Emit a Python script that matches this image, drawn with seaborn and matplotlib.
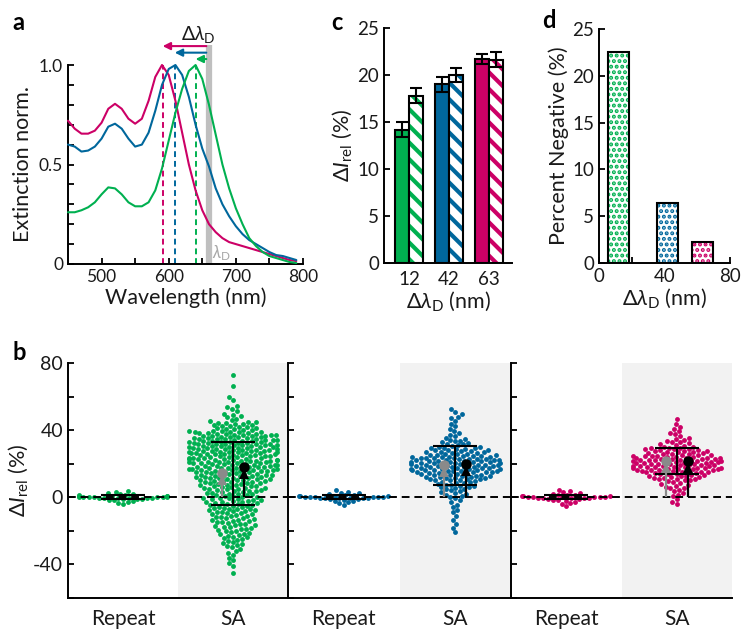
import numpy as np
import pandas as pd
import matplotlib
matplotlib.use("Agg")
import matplotlib.pyplot as plt
from matplotlib.patches import Rectangle
import seaborn as sns

# ---------------- extinction spectra (panel a) ----------------
wavelength = [450, 460, 470, 480, 490, 500, 510, 520, 530, 540, 550, 560,
              570, 580, 590, 600, 610, 620, 630, 640, 650, 660, 670, 680,
              690, 700, 710, 720, 730, 740, 750, 760, 770, 780, 790]
ext_pink = [0.72, 0.68, 0.655, 0.655, 0.67, 0.71, 0.78, 0.805, 0.78, 0.73,
            0.705, 0.73, 0.82, 0.94, 1.0, 0.95, 0.82, 0.66, 0.50, 0.37,
            0.27, 0.20, 0.16, 0.13, 0.11, 0.10, 0.09, 0.08, 0.07, 0.06,
            0.05, 0.04, 0.03, 0.02, 0.015]
ext_blue = [0.60, 0.59, 0.565, 0.57, 0.59, 0.63, 0.69, 0.705, 0.68, 0.63,
            0.59, 0.60, 0.66, 0.77, 0.90, 0.98, 1.0, 0.95, 0.84, 0.70,
            0.58, 0.49, 0.38, 0.30, 0.24, 0.19, 0.15, 0.12, 0.10, 0.08,
            0.06, 0.045, 0.04, 0.03, 0.02]
ext_green = [0.26, 0.26, 0.27, 0.285, 0.31, 0.35, 0.385, 0.38, 0.35, 0.31,
             0.29, 0.29, 0.31, 0.37, 0.48, 0.62, 0.76, 0.88, 0.97, 1.0,
             0.93, 0.80, 0.65, 0.50, 0.38, 0.28, 0.20, 0.13, 0.09, 0.06,
             0.04, 0.03, 0.02, 0.01, 0.005]
peak_nm = {"pink": 591, "blue": 609, "green": 640}
lambda_d = 660

# ---------------- bar data (panels c, d) ----------------
shift_labels = ["12", "42", "63"]
shift_nm = [12, 42, 63]
dI_solid = [14.2, 19.0, 21.7]
dI_solid_err = [0.8, 0.8, 0.55]
dI_hatched = [17.8, 20.0, 21.6]
dI_hatched_err = [0.8, 0.75, 0.8]
percent_negative = [22.5, 6.4, 2.2]

# ---------------- single-particle changes (panel b) ----------------
green_repeat = [0.0, 0.2, -0.1, 0.3, -0.3, 0.1, -0.2, 0.4, -0.5, 0.5, -0.4,
                0.6, -0.6, 0.2, -0.2, 0.7, -0.8, 0.9, -1.0, 1.1, -1.2, 1.4,
                -1.5, 1.8, -1.9, 2.2, -2.4, 2.7, -2.9, 3.3, -3.4, 3.9, -4.1]
blue_repeat = [0.1, -0.1, 0.3, -0.2, 0.0, 0.4, -0.4, 0.5, -0.6, 0.2, -0.3,
               0.6, -0.5, 0.8, -0.7, 1.0, -0.9, 1.2, -1.3, 1.5, -1.6, 1.9,
               -2.0, 2.3, -2.5, 2.8, -3.0, 3.4, -3.7, 4.2, -4.6]
pink_repeat = [0.0, 0.2, -0.2, 0.1, -0.1, 0.4, -0.3, 0.3, -0.5, 0.6, -0.4,
               0.5, -0.7, 0.8, -0.9, 1.1, -1.0, 1.3, -1.4, 1.6, -1.8, 2.0,
               -2.2, 2.5, -2.7, 3.0, -3.3, 3.6, -4.0, 4.4, -5.2]

green_sa = [
    73.0, 66.2, 58.1, 59.6, 51.2, 52.8, 53.5, 54.4,
    45.3, 46.1, 46.9, 47.8, 48.5, 49.2, 49.8,
    40.2, 40.5, 40.6, 41.1, 41.3, 41.8, 42.0, 42.4, 42.5, 43.0, 43.2, 43.6,
    43.9, 44.1, 44.5, 44.7, 44.9,
    35.0, 35.2, 35.3, 35.5, 35.7, 35.8, 36.0, 36.1, 36.3, 36.5, 36.6, 36.8,
    37.0, 37.1, 37.3, 37.4, 37.6, 37.8, 37.9, 38.1, 38.2, 38.4, 38.6, 38.7,
    38.9, 39.1, 39.2, 39.4, 39.6, 39.8,
    30.0, 30.1, 30.3, 30.4, 30.6, 30.7, 30.9, 31.0, 31.2, 31.3, 31.5, 31.6,
    31.8, 31.9, 32.0, 32.2, 32.3, 32.5, 32.6, 32.8, 32.9, 33.0, 33.2, 33.3,
    33.5, 33.6, 33.8, 33.9, 34.1, 34.2, 34.4, 34.5, 34.7, 34.9,
    25.1, 25.2, 25.4, 25.5, 25.7, 25.8, 25.9, 26.1, 26.2, 26.4, 26.5, 26.7,
    26.8, 26.9, 27.1, 27.2, 27.4, 27.5, 27.7, 27.8, 27.9, 28.0, 28.2, 28.3,
    28.5, 28.6, 28.8, 28.9, 29.1, 29.2, 29.4, 29.6, 29.7, 29.9,
    20.0, 20.2, 20.3, 20.5, 20.6, 20.8, 20.9, 21.1, 21.2, 21.3, 21.5, 21.7,
    21.8, 21.9, 22.0, 22.2, 22.4, 22.5, 22.7, 22.8, 22.9, 23.1, 23.2, 23.4,
    23.5, 23.6, 23.8, 23.9, 24.1, 24.3, 24.4, 24.6, 24.7, 24.9,
    15.0, 15.2, 15.3, 15.5, 15.6, 15.8, 15.9, 16.1, 16.2, 16.4, 16.5, 16.7,
    16.8, 16.9, 17.1, 17.2, 17.4, 17.5, 17.7, 17.8, 18.0, 18.1, 18.3, 18.4,
    18.6, 18.7, 18.9, 19.0, 19.2, 19.4, 19.5, 19.7, 19.9,
    10.1, 10.3, 10.5, 10.6, 10.8, 11.0, 11.2, 11.4, 11.5, 11.7, 11.9, 12.1,
    12.2, 12.4, 12.6, 12.8, 12.9, 13.1, 13.3, 13.5, 13.7, 13.9, 14.0, 14.2,
    14.4, 14.6, 14.8,
    5.1, 5.3, 5.6, 5.8, 6.0, 6.2, 6.5, 6.7, 6.9, 7.1, 7.4, 7.6, 7.8, 8.0,
    8.3, 8.5, 8.7, 8.9, 9.1, 9.3, 9.5, 9.7, 9.9,
    0.1, 0.4, 0.6, 0.9, 1.2, 1.4, 1.7, 1.9, 2.2, 2.5, 2.7, 3.0, 3.2, 3.5,
    3.7, 3.9, 4.2, 4.4, 4.7, 4.9,
    -0.2, -0.5, -0.7, -1.0, -1.3, -1.5, -1.8, -2.1, -2.3, -2.6, -2.8, -3.1,
    -3.4, -3.6, -3.9, -4.1, -4.4, -4.6, -4.9,
    -5.2, -5.5, -5.8, -6.1, -6.4, -6.7, -7.0, -7.2, -7.5, -7.8, -8.1, -8.4,
    -8.7, -9.0, -9.3, -9.6, -9.9,
    -10.2, -10.6, -10.9, -11.3, -11.6, -12.0, -12.3, -12.6, -13.0, -13.3,
    -13.7, -14.0, -14.3, -14.6, -14.9,
    -15.3, -15.7, -16.1, -16.4, -16.8, -17.2, -17.6, -17.9, -18.3, -18.7,
    -19.0, -19.4, -19.8,
    -20.2, -20.7, -21.1, -21.6, -22.0, -22.5, -22.9, -23.4, -23.8, -24.3,
    -24.7,
    -25.3, -25.9, -26.5, -27.2, -27.8, -28.4, -29.0, -29.7,
    -30.6, -31.8, -33.0, -34.3, -36.2, -37.5, -39.1, -41.0, -45.3,
]
blue_sa = [
    50.8, 52.6, 45.6, 47.2, 48.1, 49.4, 40.8, 42.3, 43.9,
    35.4, 36.5, 37.3, 38.2, 39.3,
    30.2, 30.7, 31.1, 31.6, 32.0, 32.5, 32.9, 33.4, 33.8, 34.3, 34.7,
    25.1, 25.3, 25.6, 25.8, 26.0, 26.3, 26.5, 26.8, 27.0, 27.2, 27.5, 27.7,
    28.0, 28.2, 28.4, 28.7, 28.9, 29.1, 29.4, 29.6, 29.8,
    20.0, 20.2, 20.3, 20.5, 20.6, 20.8, 20.9, 21.1, 21.2, 21.4, 21.5, 21.7,
    21.8, 22.0, 22.1, 22.3, 22.4, 22.6, 22.7, 22.9, 23.0, 23.2, 23.3, 23.5,
    23.6, 23.8, 23.9, 24.1, 24.2, 24.4, 24.5, 24.7, 24.9,
    15.0, 15.1, 15.3, 15.4, 15.6, 15.7, 15.9, 16.0, 16.2, 16.3, 16.5, 16.6,
    16.8, 16.9, 17.1, 17.2, 17.4, 17.5, 17.7, 17.8, 18.0, 18.1, 18.3, 18.4,
    18.6, 18.7, 18.9, 19.0, 19.2, 19.3, 19.5, 19.6, 19.8, 19.9,
    10.1, 10.3, 10.5, 10.7, 10.9, 11.1, 11.3, 11.5, 11.7, 11.9, 12.1, 12.3,
    12.5, 12.7, 12.9, 13.1, 13.3, 13.5, 13.7, 13.9, 14.1, 14.3, 14.5, 14.7,
    14.9,
    5.2, 5.5, 5.9, 6.2, 6.6, 6.9, 7.3, 7.6, 8.0, 8.3, 8.7, 9.0, 9.4, 9.8,
    0.3, 0.8, 1.4, 1.9, 2.5, 3.0, 3.6, 4.1, 4.7,
    -0.6, -1.9, -3.1, -4.4, -5.8, -7.4, -9.0, -11.2, -13.6, -15.9, -18.1,
    -20.7,
]
pink_sa = [
    46.8, 40.6, 42.1, 43.5, 35.3, 36.4, 37.5, 38.4, 39.3,
    30.2, 30.7, 31.2, 31.7, 32.2, 32.7, 33.2, 33.7, 34.2, 34.7,
    25.1, 25.3, 25.5, 25.8, 26.0, 26.2, 26.5, 26.7, 26.9, 27.1, 27.4, 27.6,
    27.8, 28.0, 28.3, 28.5, 28.7, 28.9, 29.2, 29.4, 29.6, 29.8,
    20.0, 20.1, 20.3, 20.4, 20.6, 20.7, 20.9, 21.0, 21.2, 21.3, 21.5, 21.6,
    21.8, 21.9, 22.1, 22.2, 22.4, 22.5, 22.7, 22.8, 23.0, 23.1, 23.3, 23.4,
    23.6, 23.7, 23.9, 24.0, 24.2, 24.3, 24.5, 24.6, 24.8, 24.9,
    15.0, 15.2, 15.3, 15.5, 15.6, 15.8, 15.9, 16.1, 16.2, 16.4, 16.5, 16.7,
    16.8, 16.9, 17.1, 17.2, 17.4, 17.5, 17.7, 17.8, 18.0, 18.1, 18.3, 18.4,
    18.6, 18.7, 18.9, 19.0, 19.2, 19.4, 19.5, 19.7, 19.9,
    10.1, 10.4, 10.6, 10.9, 11.1, 11.4, 11.6, 11.9, 12.1, 12.4, 12.6, 12.9,
    13.1, 13.4, 13.6, 13.9, 14.1, 14.4, 14.6, 14.9,
    5.3, 5.8, 6.4, 6.9, 7.5, 8.0, 8.6, 9.1, 9.7,
    0.6, 1.6, 2.6, 3.6, 4.6, -1.2, -2.6, -4.1,
]
sa_center = [14.2, 19.0, 21.7]
sa_spread = [18.7, 11.4, 7.9]
repeat_center = [0.0, 0.0, 0.0]
repeat_spread = [1.2, 1.2, 1.2]
sa_black = [17.8, 20.0, 21.6]
sa_grey = [14.7, 19.5, 21.9]

GREEN, BLUE, PINK = "#00b050", "#00679c", "#cc0066"
GREY_BAR = "#bfbfbf"
INK = "#1a1a1a"

# ---------------- style ----------------
sns.set_theme(style="ticks")
plt.rcParams.update({
    "font.family": ["Lato", "DejaVu Sans"],
    "mathtext.fontset": "custom",
    "mathtext.rm": "Lato",
    "mathtext.it": "Lato:italic",
    "mathtext.bf": "Lato:bold",
    "axes.unicode_minus": False,
    "axes.linewidth": 1.4,
    "axes.edgecolor": "black",
    "text.color": INK,
    "axes.labelcolor": INK,
    "xtick.color": "black",
    "ytick.color": "black",
    "xtick.labelcolor": INK,
    "ytick.labelcolor": INK,
    "xtick.direction": "in",
    "ytick.direction": "in",
    "xtick.major.size": 4.5,
    "ytick.major.size": 4.5,
    "xtick.minor.size": 4.5,
    "ytick.minor.size": 4.5,
    "xtick.major.width": 1.3,
    "ytick.major.width": 1.3,
    "xtick.minor.width": 1.3,
    "ytick.minor.width": 1.3,
    "hatch.linewidth": 3.0,
})

W, H = 744, 636
fig = plt.figure(figsize=(W / 100, H / 100), dpi=100)


def px_axes(left, top, right, bottom):
    return fig.add_axes([left / W, 1 - bottom / H, (right - left) / W, (bottom - top) / H])


LABEL_FS = 15.5

# ---------------- panel a: normalised extinction ----------------
ax_a = px_axes(68, 65, 303, 264)
spec = pd.DataFrame({"wl": wavelength, "pink": ext_pink, "blue": ext_blue, "green": ext_green})
ax_a.plot([lambda_d, lambda_d], [0, 1.10], color=GREY_BAR, lw=4.5,
          solid_capstyle="butt", zorder=1, clip_on=False)
arrow_y = {"pink": 1.095, "blue": 1.062, "green": 1.03}
for key, col in [("pink", PINK), ("blue", BLUE), ("green", GREEN)]:
    sns.lineplot(data=spec, x="wl", y=key, color=col, lw=1.5, ax=ax_a,
                 estimator=None, zorder=3, clip_on=False)
    pk = peak_nm[key]
    ax_a.plot([pk, pk], [0, 1.0], color=col, lw=1.4, ls=(0, (3, 2)), zorder=2)
    ax_a.annotate("", xy=(pk, arrow_y[key]), xytext=(lambda_d - 4, arrow_y[key]),
                  arrowprops=dict(arrowstyle="-|>", color=col, lw=1.5,
                                  mutation_scale=11, shrinkA=0, shrinkB=0),
                  annotation_clip=False)
ax_a.text(644, 1.155, r"$\Delta\lambda_{\mathrm{D}}$", ha="center", va="center",
          fontsize=14, clip_on=False)
ax_a.text(679, 0.055, r"$\lambda_{\mathrm{D}}$", ha="center", va="center",
          fontsize=12, color="#a6a6a6")
ax_a.set_xlim(450, 800)
ax_a.set_ylim(0, 1.0)
ax_a.set_xticks([500, 600, 700, 800])
ax_a.set_xticks([550, 650, 750], minor=True)
ax_a.set_yticks([0, 0.5, 1.0])
ax_a.set_yticklabels(["0", "0.5", "1.0"])
ax_a.set_yticks(np.arange(0.1, 1.0, 0.1), minor=True)
ax_a.tick_params(labelsize=12.5)
ax_a.set_xlabel("Wavelength (nm)", fontsize=LABEL_FS, labelpad=2)
ax_a.set_ylabel("Extinction norm.", fontsize=LABEL_FS, labelpad=4)
sns.despine(ax=ax_a)

# ---------------- panel c: mean change per detuning ----------------
ax_c = px_axes(384, 28, 512, 263)
df_c = pd.DataFrame({
    "shift": shift_labels * 2,
    "kind": ["solid"] * 3 + ["hatched"] * 3,
    "val": dI_solid + dI_hatched,
})
sns.barplot(data=df_c, x="shift", y="val", hue="kind", order=shift_labels,
            hue_order=["solid", "hatched"], width=0.68, gap=0, errorbar=None,
            legend=False, ax=ax_c)
bars = sorted(ax_c.patches, key=lambda p: p.get_x())
cols3 = [GREEN, BLUE, PINK]
centers, heights, errs = [], [], []
for i, p in enumerate(bars):
    g, hatched = divmod(i, 2)
    col = cols3[g]
    if hatched:
        p.set_facecolor("white")
        p.set_edgecolor(col)
        p.set_linewidth(0)
        p.set_hatch("\\\\")
        if hasattr(p, "set_hatch_linewidth"):
            p.set_hatch_linewidth(3.0)
        ax_c.add_patch(Rectangle(p.get_xy(), p.get_width(), p.get_height(),
                                 fill=False, ec="black", lw=1.5, zorder=3))
        errs.append(dI_hatched_err[g])
    else:
        p.set_facecolor(col)
        p.set_edgecolor("black")
        p.set_linewidth(1.5)
        errs.append(dI_solid_err[g])
    centers.append(p.get_x() + p.get_width() / 2)
    heights.append(p.get_height())
ax_c.errorbar(centers, heights, yerr=errs, fmt="none", ecolor="black",
              elinewidth=1.5, capsize=4, capthick=1.5, zorder=4)
ax_c.set_xlim(-0.625, 2.575)
ax_c.set_ylim(0, 25)
ax_c.set_yticks(range(0, 26, 5))
ax_c.tick_params(axis="x", length=0, pad=6)
ax_c.tick_params(labelsize=13.5)
ax_c.set_xlabel(r"$\Delta\lambda_{\mathrm{D}}$ (nm)", fontsize=LABEL_FS, labelpad=1)
ax_c.set_ylabel(r"$\Delta I_{\mathrm{rel}}$ (%)", fontsize=LABEL_FS, labelpad=2)
sns.despine(ax=ax_c)

# ---------------- panel d: fraction of negative changes ----------------
ax_d = px_axes(599, 29, 730, 263)
df_d = pd.DataFrame({"shift": shift_nm, "neg": percent_negative})
sns.barplot(data=df_d, x="shift", y="neg", native_scale=True, width=0.62,
            errorbar=None, ax=ax_d)
for p, col in zip(sorted(ax_d.patches, key=lambda p: p.get_x()), cols3):
    p.set_facecolor("white")
    p.set_edgecolor(col)
    p.set_linewidth(0)
    p.set_hatch("...")
    if hasattr(p, "set_hatch_linewidth"):
        p.set_hatch_linewidth(2.0)
    ax_d.add_patch(Rectangle(p.get_xy(), p.get_width(), p.get_height(),
                             fill=False, ec="black", lw=1.5, zorder=3))
ax_d.set_xlim(0, 80)
ax_d.set_ylim(0, 25)
ax_d.set_xticks([0, 20, 40, 60, 80])
ax_d.set_xticklabels(["0", "", "40", "", "80"])
ax_d.set_yticks(range(0, 26, 5))
ax_d.tick_params(labelsize=13.5)
ax_d.set_xlabel(r"$\Delta\lambda_{\mathrm{D}}$ (nm)", fontsize=LABEL_FS, labelpad=1)
ax_d.set_ylabel("Percent Negative (%)", fontsize=LABEL_FS, labelpad=2)
sns.despine(ax=ax_d)

# ---------------- panel b: repeat vs. SA swarms ----------------
b_edges = [(68, 288), (288, 511), (511, 732)]
groups = [(GREEN, green_repeat, green_sa), (BLUE, blue_repeat, blue_sa),
          (PINK, pink_repeat, pink_sa)]
for i, ((l, r), (col, rep, sa)) in enumerate(zip(b_edges, groups)):
    ax = px_axes(l, 363, r, 598)
    ax.set_facecolor("none")
    df = pd.DataFrame({"cond": ["Repeat"] * len(rep) + ["SA"] * len(sa),
                       "val": rep + sa})
    ax.axvspan(0.5, 1.5, color="#f2f2f2", lw=0, zorder=0)
    sns.swarmplot(data=df, x="cond", y="val", order=["Repeat", "SA"],
                  color=col, size=3.5, linewidth=0, warn_thresh=1, ax=ax,
                  zorder=2)
    ax.axhline(0, color="black", lw=1.4, ls=(0, (4, 2.5)), zorder=3)
    ax.errorbar([0, 1], [repeat_center[i], sa_center[i]],
                yerr=[repeat_spread[i], sa_spread[i]], fmt="none",
                ecolor="black", elinewidth=1.5, capsize=16, capthick=1.5,
                zorder=4)
    for xoff, val, c in [(-0.1, sa_grey[i], "#8a8a8a"), (0.1, sa_black[i], "black")]:
        ax.plot([1 + xoff, 1 + xoff], [0, val], color=c, lw=1.6, zorder=5,
                solid_capstyle="butt")
        ax.plot(1 + xoff, val - 4.2, marker="^", ms=7, color=c, mew=0, zorder=5)
        ax.plot(1 + xoff, val, marker="o", ms=7.5, color=c, mew=0, zorder=6)
    ax.set_xlim(-0.5, 1.5)
    ax.set_ylim(-60, 80)
    ax.set_yticks(range(-60, 81, 20))
    ax.tick_params(axis="x", length=0, pad=8, labelsize=15)
    ax.set_xlabel("")
    if i == 0:
        ax.set_yticklabels(["", "-40", "", "0", "", "40", "", "80"])
        ax.tick_params(axis="y", labelsize=14)
        ax.set_ylabel(r"$\Delta I_{\mathrm{rel}}$ (%)", fontsize=LABEL_FS, labelpad=2)
    else:
        ax.set_yticklabels([])
        ax.set_ylabel("")
    sns.despine(ax=ax)

# ---------------- panel letters ----------------
for letter, x, y in [("a", 12, 22), ("c", 331, 22), ("d", 542, 21), ("b", 12, 353)]:
    fig.text(x / W, 1 - y / H, letter, fontsize=17, fontweight="bold",
             ha="left", va="center", color="black")

fig.savefig("out.png", dpi=100)
